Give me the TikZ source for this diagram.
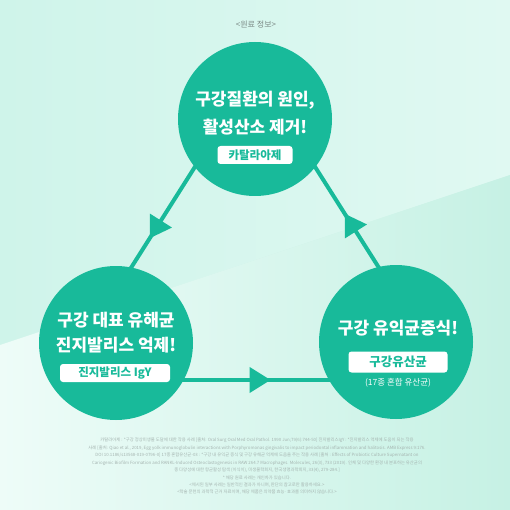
\documentclass[tikz,border=0pt]{standalone}
\usepackage{fontspec}
\setmainfont{Noto Sans CJK KR}
\usetikzlibrary{arrows.meta, decorations.markings}
\definecolor{oralTeal}{HTML}{18BA9A}
\definecolor{bgMint}{HTML}{CFF4EA}
\definecolor{bgTop}{HTML}{E0F9F2}
\definecolor{bgLight}{HTML}{EEFCF8}
\definecolor{bgDeep}{HTML}{C6F1E4}
\definecolor{labelGray}{HTML}{7C8A86}
\definecolor{noteGray}{HTML}{A5B4B0}

\begin{document}
\begin{tikzpicture}[x=1pt, y=-1pt,
    circ/.style={circle, fill=oralTeal, minimum size=154pt, inner sep=0pt},
    head/.style={text=white, font=\fontsize{17}{17}\selectfont\bfseries, inner sep=0pt},
    tag/.style={fill=white, rounded corners=3pt, text=oralTeal, font=\fontsize{11.5}{11.5}\selectfont\bfseries, inner sep=0pt, minimum height=18pt},
    link/.style={oralTeal, line width=4pt, postaction={decorate},
        decoration={markings, mark=at position 0.54 with {\arrow{Triangle[length=21pt,width=25pt]}}}},
    note/.style={text=noteGray, font=\fontsize{4.35}{4.35}\selectfont, inner sep=0pt},
]
    % background
    \useasboundingbox (0,0) rectangle (510,510);
    \fill[bgMint] (0,0) rectangle (510,510);
    \shade[left color=bgMint, right color=bgTop] (0,0) -- (510,0) -- (510,175) -- (0,345) -- cycle;
    \shade[left color=bgLight, right color=bgDeep] (0,345) -- (510,175) -- (510,510) -- (0,510) -- cycle;

    \node[text=labelGray, font=\fontsize{8}{8}\selectfont] (heading) at (256,25) {<원료 정보>};

    % cycle
    \coordinate (apex) at (255,72);
    \coordinate (baseL) at (60,380);
    \coordinate (baseR) at (450,380);
    \draw[link] (apex) -- (baseL);
    \draw[link] (baseL) -- (baseR);
    \draw[link] (baseR) -- (apex);

    % Circle 1: catalase
    \node[circ] (catalase) at (255,119) {};
    \node[head] (catalaseA) at (255,100) {구강질환의 원인,};
    \node[head] (catalaseB) at (255,127) {활성산소 제거!};
    \node[tag, minimum width=75pt] (catalaseTag) at (255,155) {카탈라아제};

    % Circle 2: IgY
    \node[circ] (igy) at (116,343) {};
    \node[head] (igyA) at (116,320) {구강 대표 유해균};
    \node[head] (igyB) at (116,345) {진지발리스 억제!};
    \node[tag, minimum width=110pt] (igyTag) at (115,373) {진지발리스 IgY};

    % Circle 3: probiotics
    \node[circ] (probio) at (396,342) {};
    \node[head] (probioA) at (398,328) {구강 유익균증식!};
    \node[tag, minimum width=99pt, minimum height=21pt, font=\fontsize{12.5}{12.5}\selectfont\bfseries] (probioTag) at (398,362) {구강유산균};
    \node[text=white, font=\fontsize{8.5}{8.5}\selectfont, inner sep=0pt] (probioSub) at (398,383) {(17종 혼합 유산균)};

    % notes
    \node[note] (note1) at (257,440.7) {카탈라아제 : *구강 정상미생물 도달에 대한 작용 사례 [출처: Oral Surg Oral Med Oral Pathol. 1990 Jun;79(6):744-50] 진지발리스IgY : *진지발리스 억제에 도움이 되는 작용};
    \node[note] (note2) at (257,448.1) {사례 [출처: Qiao et al., 2019, Egg yolk immunoglobulin interactions with Porphyromonas gingivalis to impact periodontal inflammation and halitosis. AMB Express 9:176.};
    \node[note] (note3) at (257,455.5) {DOI 10.1186/s13568-019-0796-0] 17종 혼합유산균-03 : *구강 내 유익균 증식 및 구강 유해균 억제에 도움을 주는 작용 사례 [출처 : Effects of Probiotic Culture Supernatant on};
    \node[note] (note4) at (257,462.9) {Cariogenic Biofilm Formation and RANKL-Induced Osteoclastogenesis in RAW 264.7 Macrophages. Molecules, 26(3), 733 (2019). 인체 및 다양한 환경 내 분포하는 유산균의};
    \node[note] (note5) at (257,470.3) {종 다양성에 대한 항균활성 탐색 (이식이), 미생물학회지, 한국생명과학회지, 33(4), 279-284.]};
    \node[note] (note6) at (257,477.7) {* 해당 원료 사례는 개인차가 있습니다.};
    \node[note] (note7) at (257,485.1) {<제시된 일부 사례는 일반적인 결과가 아니며, 판단의 참고로만 활용하세요.>};
    \node[note] (note8) at (257,492.5) {<학술 문헌의 과학적 근거 자료이며, 해당 제품은 의약품 효능·효과를 의미하지 않습니다.>};
\end{tikzpicture}
\end{document}
